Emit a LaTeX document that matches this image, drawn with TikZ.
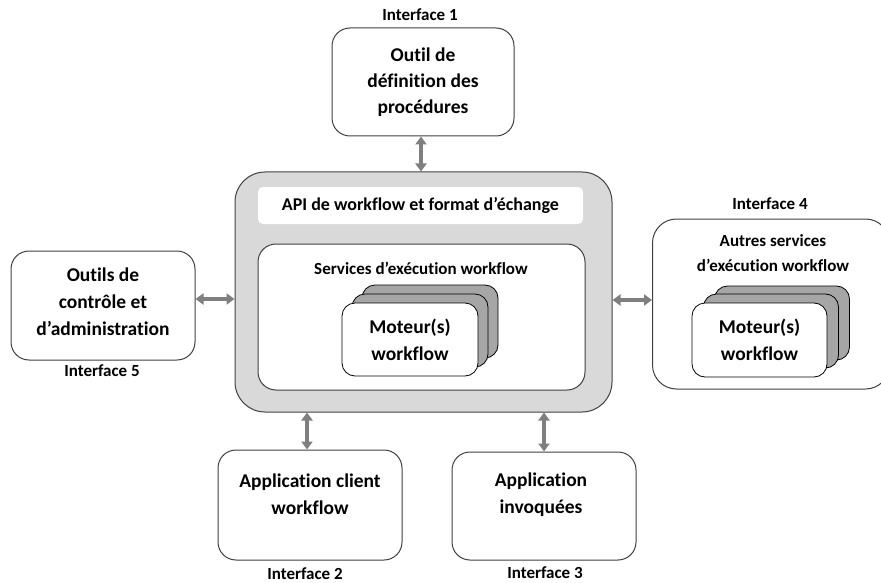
\documentclass[tikz,border=0pt]{standalone}
\usepackage{fontspec}
\setmainfont{Carlito}[RawFeature={-liga;-clig;-dlig}]
\usetikzlibrary{arrows.meta}
\definecolor{edge}{HTML}{404040}
\definecolor{panel}{HTML}{D9D9D9}
\definecolor{stackgray}{HTML}{A6A6A6}
\definecolor{arrowgray}{HTML}{7F7F7F}
\tikzset{
  box/.style={draw=edge, line width=1pt, fill=white, rounded corners=18pt,
    align=center, font=\bfseries\fontsize{19.5}{26}\selectfont, inner sep=0pt},
  boxtext/.style={align=center, font=\bfseries\fontsize{19.5}{27}\selectfont, inner sep=0pt},
  label/.style={font=\bfseries\fontsize{17}{20}\selectfont, inner sep=0pt},
  stackcard/.style={draw=black, line width=0.8pt, rounded corners=13pt,
    minimum width=136pt, minimum height=73pt, inner sep=0pt},
  dbl/.style={draw=arrowgray, line width=3.5pt,
    {Triangle[length=8pt,width=11pt]}-{Triangle[length=8pt,width=11pt]}},
}
\begin{document}
\begin{tikzpicture}[x=1pt,y=-1pt]
\useasboundingbox (0,0) rectangle (881,583);

% central workflow panel
\node[box, fill=panel, draw=edge, rounded corners=30pt,
  minimum width=377pt, minimum height=240pt] (core) at (423.5,292) {};
\node[fill=white, rounded corners=5pt, minimum width=325pt, minimum height=37pt,
  inner sep=0pt, font=\bfseries\fontsize{18}{21}\selectfont]
  (api) at (420.5,205.5) {API de workflow et format d’échange};
\node[box, minimum width=327pt, minimum height=146pt] (svc) at (421.5,317) {};
\node[label] (svct) at (421,268) {Services d’exécution workflow};
\node[stackcard, fill=stackgray] (sa3) at (430,321.5) {};
\node[stackcard, fill=stackgray] (sa2) at (420,330.5) {};
\node[stackcard, fill=white, boxtext] (sa1) at (410,339.5) {Moteur(s)\\workflow};

% top: process definition tool
\node[box, minimum width=182pt, minimum height=108pt] (def) at (423,82)
  {Outil de\\définition des\\procédures};
\node[label] (i1) at (420,15) {Interface 1};

% left: monitoring and administration
\node[box, minimum width=184pt, minimum height=109pt] (adm) at (103,305.5) {};
\node[boxtext] (admt) at (103,302) {Outils de\\contrôle et\\d’administration};
\node[label] (i5) at (102,371) {Interface 5};

% right: other workflow enactment services
\node[box, minimum width=237pt, minimum height=170pt, anchor=west,
  rounded corners=24pt] (oth) at (652,304) {};
\node[label, align=center, font=\bfseries\fontsize{17}{25}\selectfont]
  (otht) at (773,253) {Autres services\\d’exécution workflow};
\node[label] (i4) at (770,204) {Interface 4};
\node[stackcard, fill=stackgray, minimum width=135pt, minimum height=74pt] (sb3) at (782,323) {};
\node[stackcard, fill=stackgray, minimum width=135pt, minimum height=74pt] (sb2) at (771,331) {};
\node[stackcard, fill=white, minimum width=135pt, minimum height=74pt, boxtext]
  (sb1) at (759.5,340) {Moteur(s)\\workflow};

% bottom: client and invoked applications
\node[box, minimum width=184pt, minimum height=110pt] (cli) at (310,505) {};
\node[boxtext] (clit) at (310,494) {Application client\\workflow};
\node[label] (i2) at (305,574) {Interface 2};
\node[box, minimum width=184pt, minimum height=108pt] (inv) at (544,506) {};
\node[boxtext] (invt) at (541,495) {Application\\invoquées};
\node[label] (i3) at (545,573) {Interface 3};

% interfaces
\coordinate (ly) at (0,299);
\coordinate (ry) at (0,300);
\coordinate (tx) at (421,0);
\coordinate (bx) at (307,0);
\path[dbl] (def.south -| tx) -- (core.north -| tx);
\path[dbl] (adm.east |- ly) -- (core.west |- ly);
\path[dbl] (core.east |- ry) -- (oth.west |- ry);
\path[dbl] (core.south -| bx) -- (cli.north -| bx);
\path[dbl] (core.south -| inv) -- (inv.north);
\end{tikzpicture}
\end{document}
